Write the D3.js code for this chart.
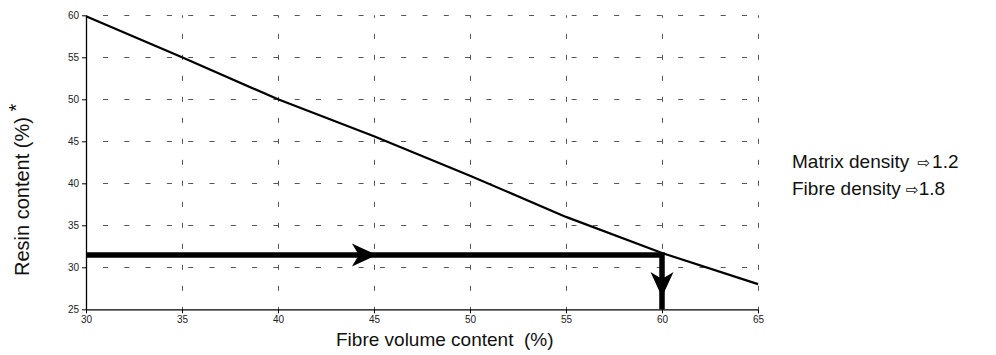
<!DOCTYPE html>
<html>
<head>
<meta charset="utf-8">
<script src="https://cdn.jsdelivr.net/npm/d3@7"></script>
<style>
  html, body { margin: 0; padding: 0; background: #fff; }
  svg { display: block; font-family: "Liberation Sans", Arial, sans-serif; }
</style>
</head>
<body>
<svg id="chart" width="996" height="355"></svg>
<script>
// Fibre volume content (%) and the matching resin content (%) by weight
const fibreVolume = [30, 35, 40, 45, 50, 55, 60, 65];
const resinContent = [59.9, 55.0, 50.0, 45.6, 40.9, 36.0, 31.7, 28.0];

const xTicks = [30, 35, 40, 45, 50, 55, 60, 65];
const yTicks = [25, 30, 35, 40, 45, 50, 55, 60];

// Reading path: from the resin axis across to the curve, then down to fibre volume
const readingResin = 31.45;
const readingFibre = 60;
const readingPath = [[30, readingResin], [readingFibre, readingResin], [readingFibre, 25]];

const legendLabels = ["Matrix density", "Fibre density"];
const legendValues = ["1.2", "1.8"];

const svg = d3.select("#chart");
const plotLeft = 86, plotRight = 758, plotTop = 15.3, plotBottom = 309.3;

const x = d3.scaleLinear().domain([30, 65]).range([plotLeft, plotRight]);
const y = d3.scaleLinear().domain([25, 60]).range([plotBottom, plotTop]);

// dashed grid
const grid = svg.append("g").attr("stroke", "#555").attr("stroke-width", 1)
  .attr("stroke-dasharray", "5,16.3");
grid.selectAll("line.h").data(yTicks.filter(d => d > 25)).join("line")
  .attr("class", "h")
  .attr("x1", plotLeft).attr("x2", plotRight)
  .attr("y1", d => Math.round(y(d)) + 0.5).attr("y2", d => Math.round(y(d)) + 0.5)
  .attr("stroke-dashoffset", 4.3);
grid.selectAll("line.v").data(xTicks.filter(d => d > 30)).join("line")
  .attr("class", "v")
  .attr("x1", d => Math.round(x(d)) + 0.5).attr("x2", d => Math.round(x(d)) + 0.5)
  .attr("y1", plotBottom).attr("y2", plotTop)
  .attr("stroke-dasharray", "5,16")
  .attr("stroke-dashoffset", 2.5);

// axes
const xAxis = svg.append("g").attr("transform", `translate(0,${plotBottom})`)
  .call(d3.axisBottom(x).tickValues(xTicks).tickSize(4).tickPadding(3).tickSizeOuter(0));
const yAxis = svg.append("g").attr("transform", `translate(${plotLeft},0)`)
  .call(d3.axisLeft(y).tickValues(yTicks).tickSize(4).tickPadding(3).tickSizeOuter(0));
[xAxis, yAxis].forEach(a => {
  a.select(".domain").attr("stroke", "#000").attr("stroke-width", 1.3);
  a.selectAll(".tick line").attr("stroke", "#000");
  a.selectAll(".tick text").attr("fill", "#222")
    .style("font-family", "'Liberation Sans', Arial, sans-serif").style("font-size", "10px");
});

// resin content curve
svg.append("path")
  .datum(fibreVolume.map((v, i) => [v, resinContent[i]]))
  .attr("fill", "none").attr("stroke", "#000").attr("stroke-width", 2.2)
  .attr("d", d3.line().x(d => x(d[0])).y(d => y(d[1])));

// reading path with arrowheads
svg.append("path")
  .datum(readingPath)
  .attr("fill", "none").attr("stroke", "#000").attr("stroke-width", 5.5)
  .attr("stroke-linejoin", "miter")
  .attr("d", d3.line().x(d => x(d[0])).y(d => y(d[1])));

const head = "M0,0 L-25,-11.5 L-18,0 L-25,11.5 Z";
svg.append("path").attr("d", head).attr("fill", "#000")
  .attr("transform", `translate(${x(45.15)},${y(readingResin)})`);
svg.append("path").attr("d", head).attr("fill", "#000")
  .attr("transform", `translate(${x(readingFibre)},${y(26.45)}) rotate(90)`);

// axis titles
svg.append("text")
  .attr("x", 336).attr("y", 346)
  .attr("font-size", 19).attr("fill", "#111")
  .attr("xml:space", "preserve")
  .text("Fibre volume content  (%)");

const yt = svg.append("text")
  .attr("transform", "translate(29,276) rotate(-90)")
  .attr("font-size", 20).attr("fill", "#111");
yt.append("tspan").text("Resin content (%) ");
yt.append("tspan").attr("dy", -6).text("*");

// density notes
const legend = svg.append("g").attr("transform", "translate(792,0)");
legendLabels.forEach((lab, i) => {
  const t = legend.append("text").attr("y", 168 + i * 27)
    .attr("font-size", 19).attr("fill", "#111");
  t.append("tspan").text(lab + " ");
  t.append("tspan").attr("font-family", "DejaVu Sans").attr("font-size", 15).attr("dx", i === 0 ? 3 : 0).text("\u21E8");
  t.append("tspan").attr("dx", i === 0 ? 2 : 0).text(legendValues[i]);
});
</script>
</body>
</html>
